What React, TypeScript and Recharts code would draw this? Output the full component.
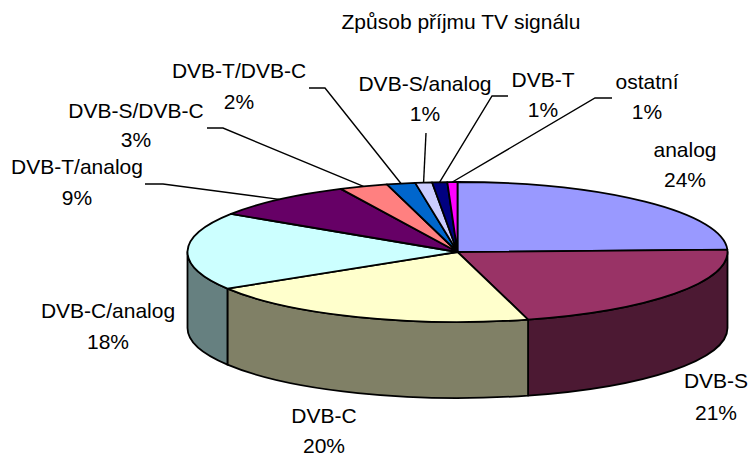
// Tilted pie of TV signal reception, drawn on a flat Recharts Pie with custom shapes.
import { PieChart, Pie } from 'recharts';

const categories = [
  'analog',
  'DVB-S',
  'DVB-C',
  'DVB-C/analog',
  'DVB-T/analog',
  'DVB-S/DVB-C',
  'DVB-T/DVB-C',
  'DVB-S/analog',
  'DVB-T',
  'ostatní',
];
const shares = [24.4, 21.3, 20.4, 17.9, 8.7, 2.9, 1.7, 1.0, 0.9, 0.6];
const topColors = ['#9999ff', '#993366', '#ffffcc', '#ccffff', '#660066', '#ff8080', '#0066cc', '#ccccff', '#000080', '#ff00ff'];
const wallColors = ['#4c4c80', '#4c1933', '#808066', '#668080', '#330033', '#804040', '#003366', '#666680', '#000040', '#800080'];

const data = categories.map((name, i) => ({ name, value: shares[i], top: topColors[i], wall: wallColors[i] }));

// label layout: text centre x, first and second baseline, optional leader elbow [x0, x1, y]
const labelSpots: { x: number; y1: number; y2: number; elbow?: [number, number, number] }[] = [
  { x: 685, y1: 157, y2: 187 },
  { x: 716, y1: 388, y2: 420 },
  { x: 324, y1: 423, y2: 453 },
  { x: 108, y1: 318, y2: 349 },
  { x: 77, y1: 174, y2: 205, elbow: [145, 163, 184] },
  { x: 136, y1: 118, y2: 147, elbow: [207, 223, 128] },
  { x: 239, y1: 78, y2: 109, elbow: [309, 325, 88] },
  { x: 425, y1: 91, y2: 121, elbow: [426, 426, 133] },
  { x: 543, y1: 87, y2: 117, elbow: [508, 492, 96] },
  { x: 647, y1: 89, y2: 119, elbow: [612, 595, 98] },
];

const FONT = 'Arial, "Liberation Sans", sans-serif';
const SQUASH = 70 / 270;
const DEPTH = 76;
const RAD = Math.PI / 180;

const onEllipse = (p: any, deg: number, dy = 0) => {
  const ry = p.outerRadius * SQUASH;
  return `${p.cx + p.outerRadius * Math.cos(deg * RAD)} ${p.cy - ry * Math.sin(deg * RAD) + dy}`;
};

function TopSlice(p: any) {
  const rx = p.outerRadius;
  const ry = rx * SQUASH;
  const large = p.startAngle - p.endAngle > 180 ? 1 : 0;
  const d = `M ${p.cx} ${p.cy} L ${onEllipse(p, p.startAngle)} A ${rx} ${ry} 0 ${large} 1 ${onEllipse(p, p.endAngle)} Z`;
  return <path d={d} fill={p.payload?.top ?? p.top} stroke="#000" strokeWidth={1.8} strokeLinejoin="round" />;
}

// only the front half of the rim is visible
function WallSlice(p: any) {
  const from = Math.min(p.startAngle, 0);
  const to = Math.max(p.endAngle, -180);
  if (from <= to) return <g />;
  const rx = p.outerRadius;
  const ry = rx * SQUASH;
  const d =
    `M ${onEllipse(p, from)} A ${rx} ${ry} 0 0 1 ${onEllipse(p, to)} ` +
    `L ${onEllipse(p, to, DEPTH)} A ${rx} ${ry} 0 0 0 ${onEllipse(p, from, DEPTH)} Z`;
  return <path d={d} fill={p.payload?.wall ?? p.wall} stroke="#000" strokeWidth={1.8} strokeLinejoin="round" />;
}

function SliceLabel(p: any) {
  const spot = labelSpots[p.index];
  const rx = p.outerRadius;
  const tipX = p.cx + rx * Math.cos(p.midAngle * RAD);
  const tipY = p.cy - rx * SQUASH * Math.sin(p.midAngle * RAD);
  return (
    <g>
      {spot.elbow && (
        <polyline
          points={`${spot.elbow[0]},${spot.elbow[2]} ${spot.elbow[1]},${spot.elbow[2]} ${tipX},${tipY}`}
          fill="none"
          stroke="#000"
          strokeWidth={1.4}
        />
      )}
      <text x={spot.x} y={spot.y1} textAnchor="middle" fontFamily={FONT} fontSize={21} fill="#000">
        {p.name}
      </text>
      <text x={spot.x} y={spot.y2} textAnchor="middle" fontFamily={FONT} fontSize={21} fill="#000">
        {`${Math.round(p.percent * 100)}%`}
      </text>
    </g>
  );
}

export default function App() {
  return (
    <div style={{ position: 'absolute', left: 0, top: 0, width: 751, height: 456 }}>
      <PieChart width={751} height={456} margin={{ top: 0, right: 0, bottom: 0, left: 0 }}>
        <text x={461} y={29} textAnchor="middle" fontFamily={FONT} fontSize={21} fill="#000">
          Způsob příjmu TV signálu
        </text>
        <Pie
          data={data}
          dataKey="value"
          nameKey="name"
          cx={457.5}
          cy={252}
          outerRadius={270}
          startAngle={90}
          endAngle={-270}
          shape={WallSlice}
          label={false}
          labelLine={false}
          isAnimationActive={false}
        />
        <Pie
          data={data}
          dataKey="value"
          nameKey="name"
          cx={457.5}
          cy={252}
          outerRadius={270}
          startAngle={90}
          endAngle={-270}
          shape={TopSlice}
          label={SliceLabel}
          labelLine={false}
          isAnimationActive={false}
        />
      </PieChart>
    </div>
  );
}
